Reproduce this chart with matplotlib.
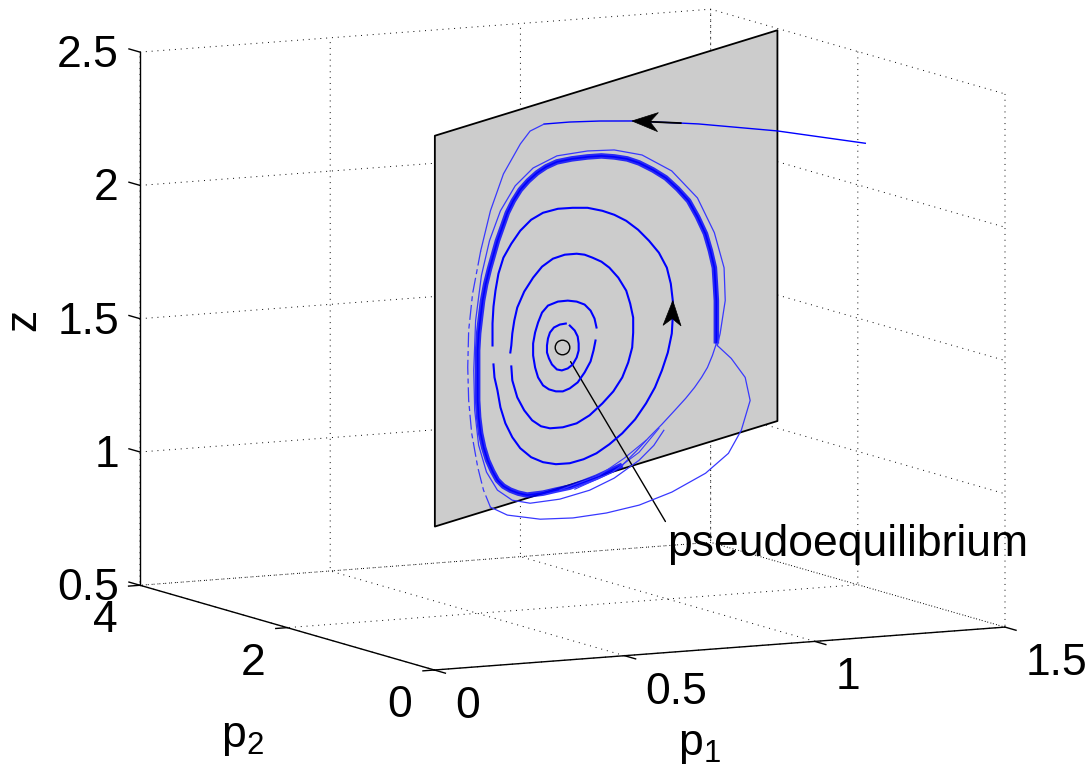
import matplotlib
matplotlib.use("Agg")
import matplotlib.pyplot as plt
import numpy as np
from mpl_toolkits.mplot3d import proj3d
from mpl_toolkits.mplot3d.art3d import Poly3DCollection
from matplotlib.patches import Polygon
from matplotlib.lines import Line2D
from matplotlib.transforms import IdentityTransform

plt.rcParams['font.family'] = ['Liberation Sans', 'DejaVu Sans']
plt.rcParams['mathtext.fontset'] = 'custom'
plt.rcParams['mathtext.rm'] = 'Liberation Sans'
plt.rcParams['mathtext.it'] = 'Liberation Sans'
try:
    plt.rcParams['axes3d.automargin'] = False
except KeyError:
    pass

# ---------------- axes ----------------
P1_LIM = (0.0, 1.5)
P2_LIM = (0.0, 4.0)
Z_LIM = (0.5, 2.5)
P1_TICKS = [0, 0.5, 1, 1.5]
P1_TICKLABELS = ['0', '0.5', '1', '1.5']
P2_TICKS = [0, 2, 4]
P2_TICKLABELS = ['0', '2', '4']
Z_TICKS = [0.5, 1, 1.5, 2, 2.5]
Z_TICKLABELS = ['0.5', '1', '1.5', '2', '2.5']
XLABEL = r'$\mathregular{p_1}$'
YLABEL = r'$\mathregular{p_2}$'
ZLABEL = 'z'

# ---------------- switching plane p2 = K * p1 ----------------
PLANE_K = 2.02
PLANE_P1 = [0.0, 1.478]
PLANE_Z = [1.04, 2.506]

# pseudoequilibrium (on plane)
PE_P1 = 0.551
PE_Z = 1.563
ANNOT_TEXT = 'pseudoequilibrium'

# inner spiral loops (on plane): p1, z
LOOP_A_P1 = [0.5671, 0.5414, 0.5158, 0.4987, 0.4902, 0.4859, 0.4859, 0.4944, 0.5073, 0.5286, 0.5500,
             0.5756, 0.5970, 0.6141, 0.6226, 0.6226, 0.6184, 0.6055, 0.5842]
LOOP_A_Z = [1.6478, 1.6509, 1.6466, 1.6324, 1.6122, 1.5872, 1.5610, 1.5363, 1.5103, 1.4859, 1.4765,
            1.4771, 1.4863, 1.5079, 1.5318, 1.5580, 1.5854, 1.6113, 1.6357]
LOOP_B_P1 = [0.6996, 0.6910, 0.6739, 0.6483, 0.6141, 0.5756, 0.5329, 0.4902, 0.4645, 0.4474, 0.4346,
             0.4261, 0.4261, 0.4346, 0.4474, 0.4688, 0.4944, 0.5243, 0.5543, 0.5842, 0.6184, 0.6483,
             0.6739, 0.6867, 0.6953]
LOOP_B_Z = [1.5973, 1.6333, 1.6678, 1.6972, 1.7175, 1.7315, 1.7393, 1.7357, 1.7164, 1.6836, 1.6496,
            1.6107, 1.5658, 1.5186, 1.4778, 1.4421, 1.4203, 1.4048, 1.3967, 1.3999, 1.4133, 1.4427,
            1.4770, 1.5147, 1.5498]
LOOP_C_P1 = [0.3320, 0.3363, 0.3577, 0.3876, 0.4218, 0.4602, 0.4987, 0.5543, 0.6141, 0.6696, 0.7252,
             0.7722, 0.8107, 0.8364, 0.8535, 0.8578, 0.8578, 0.8449, 0.8278, 0.7936, 0.7551, 0.7209,
             0.6825, 0.6483, 0.6141, 0.5628, 0.5115, 0.4645, 0.4261, 0.3876, 0.3577, 0.3449, 0.3363,
             0.3320, 0.3278]
LOOP_C_Z = [1.5498, 1.4963, 1.4269, 1.3703, 1.3237, 1.2910, 1.2731, 1.2620, 1.2609, 1.2760, 1.3060,
            1.3384, 1.3804, 1.4296, 1.4813, 1.5362, 1.5923, 1.6482, 1.7014, 1.7592, 1.8070, 1.8386,
            1.8639, 1.8843, 1.8971, 1.9072, 1.9059, 1.8886, 1.8577, 1.8156, 1.7638, 1.7186, 1.6722,
            1.6284, 1.6033]
LOOP_D_P1 = [0.2551, 0.2594, 0.2722, 0.2850, 0.3064, 0.3363, 0.3705, 0.4175, 0.4688, 0.5243, 0.5842,
             0.6440, 0.6996, 0.7551, 0.8107, 0.8663, 0.9133, 0.9518, 0.9817, 1.0073, 1.0244, 1.0287,
             1.0287, 1.0201, 1.0030, 0.9688, 0.9261, 0.8791, 0.8278, 0.7765, 0.7252, 0.6611, 0.5970,
             0.5329, 0.4688, 0.4175, 0.3705, 0.3320, 0.2979, 0.2765, 0.2637, 0.2551, 0.2509, 0.2509,
             0.2509]
LOOP_D_Z = [1.5779, 1.5282, 1.4760, 1.4090, 1.3434, 1.2830, 1.2327, 1.1864, 1.1540, 1.1316, 1.1192,
            1.1182, 1.1257, 1.1445, 1.1708, 1.2083, 1.2556, 1.3052, 1.3608, 1.4212, 1.4878, 1.5503,
            1.6101, 1.6761, 1.7406, 1.8059, 1.8622, 1.9160, 1.9633, 1.9996, 2.0283, 2.0567, 2.0739,
            2.0874, 2.0896, 2.0771, 2.0485, 2.0102, 1.9670, 1.9128, 1.8526, 1.7950, 1.7326, 1.6877,
            1.6502]
LOOP_D_ARROW = (20, 22)   # tail index, tip index

# incoming trajectory (off plane, in front of it)
IN_P1 = [1.450, 1.182, 0.943, 0.889, 0.741, 0.642, 0.551, 0.474]
IN_P2 = [1.640, 1.452, 1.286, 1.248, 1.145, 1.075, 1.012, 0.958]
IN_Z = [2.190, 2.280, 2.345, 2.357, 2.389, 2.405, 2.416, 2.421]
IN_ARROW = (3, 4)

# outer trajectory sliding down the left of the plane
OUT1_P1 = [0.473, 0.413, 0.371, 0.298, 0.242, 0.200, 0.165, 0.148, 0.144, 0.148, 0.161, 0.187, 0.212, 0.242]
OUT1_Z = [2.421, 2.411, 2.374, 2.281, 2.158, 2.019, 1.868, 1.734, 1.597, 1.472, 1.345, 1.211, 1.118, 1.046]
OUT1_SOLID = 6   # first points drawn solid, the rest broken

# excursion off the plane (lobe)
LOBE_P1 = [0.242, 0.299, 0.4245, 0.550, 0.679, 0.8045, 0.936, 1.075, 1.180, 1.245, 1.299, 1.303, 1.265, 1.221]
LOBE_P2 = [0.489, 0.554, 0.757, 0.961, 1.172, 1.375, 1.611, 1.872, 2.104, 2.265, 2.424, 2.512, 2.505, 2.466]
LOBE_Z = [1.046, 1.005, 0.960, 0.935, 0.923, 0.923, 0.939, 0.974, 1.019, 1.086, 1.179, 1.258, 1.334, 1.390]

# outer trajectory after re-entering the plane
OUT2_P1 = [1.221, 1.233, 1.255, 1.250, 1.208, 1.135, 1.024, 0.896, 0.776, 0.661, 0.529, 0.426, 0.349, 0.285,
           0.238, 0.203, 0.178, 0.170, 0.174, 0.191, 0.225, 0.272, 0.336, 0.413, 0.541, 0.670, 0.776, 0.883,
           0.947, 0.990]
OUT2_Z = [1.390, 1.432, 1.550, 1.674, 1.817, 1.967, 2.098, 2.192, 2.243, 2.270, 2.287, 2.269, 2.223, 2.146,
          2.047, 1.925, 1.763, 1.578, 1.428, 1.292, 1.182, 1.102, 1.047, 1.015, 0.996, 0.995, 1.012, 1.050,
          1.089, 1.134]

# limit cycle: dense band part and thin closing part
LCB_P1 = [1.2167, 1.2167, 1.2167, 1.2124, 1.2081, 1.1910, 1.1697, 1.1355, 1.0970, 1.0500, 0.9987, 0.9432,
          0.8833, 0.8321, 0.7765, 0.7209, 0.6611, 0.5927, 0.5286, 0.4816, 0.4432, 0.4047, 0.3705, 0.3406,
          0.3149, 0.2936, 0.2722, 0.2551, 0.2380, 0.2209, 0.2081, 0.1996, 0.1910, 0.1867, 0.1867, 0.1867,
          0.1867, 0.1910, 0.1996, 0.2124, 0.2295, 0.2509, 0.2722, 0.2979, 0.3278, 0.3620, 0.4004, 0.4346,
          0.4688, 0.5243, 0.5842, 0.6440, 0.6996, 0.7551, 0.8107]
LCB_Z = [1.3988, 1.4849, 1.5597, 1.6246, 1.6856, 1.7538, 1.8231, 1.8959, 1.9661, 2.0236, 2.0785, 2.1233,
         2.1656, 2.1943, 2.2167, 2.2353, 2.2476, 2.2585, 2.2644, 2.2582, 2.2461, 2.2264, 2.2020, 2.1688,
         2.1308, 2.0841, 2.0374, 1.9896, 1.9418, 1.8865, 1.8300, 1.7725, 1.7111, 1.6487, 1.5851, 1.5215,
         1.4616, 1.3968, 1.3346, 1.2788, 1.2255, 1.1787, 1.1392, 1.1099, 1.0869, 1.0665, 1.0488, 1.0433,
         1.0379, 1.0343, 1.0294, 1.0321, 1.0359, 1.0435, 1.0510]
LCT_P1 = [0.8107, 0.8706, 0.9261, 0.9817, 1.0372, 1.0842, 1.1227, 1.1526, 1.1782, 1.1996, 1.2167]
LCT_Z = [1.0510, 1.0874, 1.1249, 1.1587, 1.1962, 1.2285, 1.2594, 1.2888, 1.3193, 1.3585, 1.3988]

# short branches near the lower boundary
F1_P1 = [0.541, 0.712, 0.819, 0.913]
F1_Z = [1.030, 1.040, 1.075, 1.117]
F2_P1 = [0.606, 0.768, 0.883, 0.969]
F2_Z = [1.016, 1.036, 1.080, 1.147]

# ---------------- figure ----------------
W_PX, H_PX, DPI = 1089, 772, 100
FS = 32
fig = plt.figure(figsize=(W_PX / DPI, H_PX / DPI), dpi=DPI)
ax = fig.add_axes([0.1, 0.1, 0.8, 0.8], projection='3d', proj_type='ortho')
ax.computed_zorder = False
ax.set_xlim(*P1_LIM)
ax.set_ylim(*P2_LIM)
ax.set_zlim(*Z_LIM)
ax.set_box_aspect((642, 648, 540))
ax.view_init(elev=8.46, azim=-117.07)

for axis in (ax.xaxis, ax.yaxis, ax.zaxis):
    axis.set_pane_color((1, 1, 1, 0))
    axis._axinfo['grid'].update({'color': 'k', 'linewidth': 0.7, 'linestyle': (0, (1, 5))})
    axis._axinfo['tick']['inward_factor'] = 0.0
    axis._axinfo['tick']['outward_factor'] = 0.0
    axis.line.set_linewidth(1.0)
    axis.line.set_color('k')
ax.grid(True)

ax.set_xticks(P1_TICKS)
ax.set_yticks(P2_TICKS)
ax.set_zticks(Z_TICKS)
ax.set_xticklabels([''] * len(P1_TICKS))
ax.set_yticklabels([''] * len(P2_TICKS))
ax.set_zticklabels([''] * len(Z_TICKS))

K = PLANE_K
# plane
pp1 = [PLANE_P1[0], PLANE_P1[1], PLANE_P1[1], PLANE_P1[0]]
pz = [PLANE_Z[0], PLANE_Z[0], PLANE_Z[1], PLANE_Z[1]]
verts = [list(zip(pp1, [K * v for v in pp1], pz))]
ax.add_collection3d(Poly3DCollection(verts, facecolor=(0.8, 0.8, 0.8), edgecolor='k',
                                     linewidths=1.3, zorder=1))

# tick marks (outward, MATLAB style)
TICK_DP2 = 0.15
TICK_DP1 = 0.03
for t in Z_TICKS:
    ax.plot([P1_LIM[0], P1_LIM[0]], [P2_LIM[1], P2_LIM[1] + TICK_DP2], [t, t], color='k', lw=1.0, zorder=2)
for t in P1_TICKS:
    ax.plot([t, t], [P2_LIM[0], P2_LIM[0] - TICK_DP2], [Z_LIM[0], Z_LIM[0]], color='k', lw=1.0, zorder=2)
for t in P2_TICKS:
    ax.plot([P1_LIM[0], P1_LIM[0] - TICK_DP1], [t, t], [Z_LIM[0], Z_LIM[0]], color='k', lw=1.0, zorder=2)

BLUE = (0, 0, 1)
LIGHT = (0.22, 0.22, 1.0)


def onplane(p1):
    return [K * v for v in p1]


ax.plot(LCB_P1, onplane(LCB_P1), LCB_Z, color=BLUE, lw=4.0, alpha=0.8, zorder=3, solid_capstyle='butt')
ax.plot(LCB_P1, onplane(LCB_P1), LCB_Z, color=BLUE, lw=1.2, zorder=3)
ax.plot(LCT_P1, onplane(LCT_P1), LCT_Z, color=LIGHT, lw=0.9, zorder=3)
ax.plot(F1_P1, onplane(F1_P1), F1_Z, color=LIGHT, lw=0.8, zorder=3)
ax.plot(F2_P1, onplane(F2_P1), F2_Z, color=LIGHT, lw=0.8, zorder=3)
for lp1, lz in ((LOOP_A_P1, LOOP_A_Z), (LOOP_B_P1, LOOP_B_Z), (LOOP_C_P1, LOOP_C_Z), (LOOP_D_P1, LOOP_D_Z)):
    ax.plot(lp1, onplane(lp1), lz, color=BLUE, lw=1.5, zorder=4)
ax.plot(IN_P1, IN_P2, IN_Z, color=BLUE, lw=1.0, zorder=4)
n = OUT1_SOLID
ax.plot(OUT1_P1[:n], onplane(OUT1_P1[:n]), OUT1_Z[:n], color=LIGHT, lw=0.9, zorder=4)
ax.plot(OUT1_P1[n - 1:], onplane(OUT1_P1[n - 1:]), OUT1_Z[n - 1:], color=LIGHT, lw=0.9, zorder=4,
        linestyle=(0, (12, 3, 4, 3)))
ax.plot(LOBE_P1, LOBE_P2, LOBE_Z, color=LIGHT, lw=0.9, zorder=4)
ax.plot(OUT2_P1, onplane(OUT2_P1), OUT2_Z, color=LIGHT, lw=0.9, zorder=4)
ax.plot([PE_P1], [K * PE_P1], [PE_Z], marker='o', ms=10.5, mfc='none', mec='k', mew=1.0, zorder=6,
        linestyle='none')

# ---------------- fit the projected box into the reference frame ----------------
BOX_LEFT, BOX_RIGHT, BOX_TOP, BOX_BOTTOM = 140, 1005, 8, 670  # image pixels


def project(x, y, z):
    X, Y, _ = proj3d.proj_transform(np.atleast_1d(np.asarray(x, float)),
                                    np.atleast_1d(np.asarray(y, float)),
                                    np.atleast_1d(np.asarray(z, float)), ax.get_proj())
    return X, Y


def to_px(x, y, z):
    X, Y = project(x, y, z)
    return ax.transData.transform(np.column_stack([X, Y]))


fig.canvas.draw()
cx, cy, cz = [], [], []
for a in P1_LIM:
    for b in P2_LIM:
        for c in Z_LIM:
            cx.append(a); cy.append(b); cz.append(c)
pts = to_px(cx, cy, cz)
bx0, by0 = pts.min(axis=0)
bx1, by1 = pts.max(axis=0)
pos = ax.get_position()
L, B, Wd, Ht = pos.x0 * W_PX, pos.y0 * H_PX, pos.width * W_PX, pos.height * H_PX
s = (BOX_RIGHT - BOX_LEFT) / (bx1 - bx0)
u0 = (bx0 - L) / Wd
v0 = (by0 - B) / Ht
W2, H2 = Wd * s, Ht * s
L2 = BOX_LEFT - u0 * W2
B2 = (H_PX - BOX_BOTTOM) - v0 * H2
ax.set_position([L2 / W_PX, B2 / H_PX, W2 / W_PX, H2 / H_PX])
fig.canvas.draw()


# ---------------- tick labels and axis labels ----------------
def tick_label(x, y, z, text, dx, dy, ha):
    X, Y = project(x, y, z)
    ax.annotate(text, xy=(X[0], Y[0]), xycoords='data', xytext=(dx, dy), textcoords='offset pixels',
                ha=ha, va='baseline', fontsize=FS, annotation_clip=False)


for t, lab in zip(P1_TICKS, P1_TICKLABELS):
    tick_label(t, P2_LIM[0], Z_LIM[0], lab, 21, -48, 'left')
for t, lab in zip(P2_TICKS, P2_TICKLABELS):
    tick_label(P1_LIM[0], t, Z_LIM[0], lab, -22, -47, 'right')
for t, lab in zip(Z_TICKS, Z_TICKLABELS):
    tick_label(P1_LIM[0], P2_LIM[1], t, lab, -21, -15, 'right')

fig.text(699 / W_PX, 1 - 745 / H_PX, XLABEL, fontsize=FS, ha='center', va='center')
fig.text(242 / W_PX, 1 - 737 / H_PX, YLABEL, fontsize=FS, ha='center', va='center')
fig.text(24 / W_PX, 1 - 320 / H_PX, ZLABEL, fontsize=FS, ha='center', va='center', rotation=90)


# ---------------- arrowheads (MATLAB-like notched) ----------------
def arrowhead(tail, tip, length=26, half=9.5, notch=8, shaft=False):
    t = to_px(*tail)[0]
    h = to_px(*tip)[0]
    u = (h - t) / np.linalg.norm(h - t)
    nrm = np.array([-u[1], u[0]])
    vs = [h, h - length * u + half * nrm, h - (length - notch) * u, h - length * u - half * nrm]
    fig.add_artist(Polygon(vs, closed=True, facecolor='k', edgecolor='k', lw=0.5,
                           transform=IdentityTransform(), zorder=10))
    if shaft:
        e = h - (length - notch) * u
        fig.add_artist(Line2D([t[0], e[0]], [t[1], e[1]], color='k', lw=1.3,
                              transform=IdentityTransform(), zorder=10))


i0, i1 = IN_ARROW
arrowhead((IN_P1[i0], IN_P2[i0], IN_Z[i0]), (IN_P1[i1], IN_P2[i1], IN_Z[i1]), shaft=True)
j0, j1 = LOOP_D_ARROW
arrowhead((LOOP_D_P1[j0], K * LOOP_D_P1[j0], LOOP_D_Z[j0]),
          (LOOP_D_P1[j1], K * LOOP_D_P1[j1], LOOP_D_Z[j1]), length=25, half=9, notch=7)

# annotation
PX, PY = project([PE_P1], [K * PE_P1], [PE_Z])
ax.annotate(ANNOT_TEXT, xy=(PX[0], PY[0]), xycoords='data', xytext=(105, -177),
            textcoords='offset pixels', ha='left', va='top', fontsize=FS,
            arrowprops=dict(arrowstyle='-', color='k', lw=1.0, shrinkA=0, shrinkB=12, relpos=(0, 1)))

fig.savefig('out.png', dpi=DPI)
